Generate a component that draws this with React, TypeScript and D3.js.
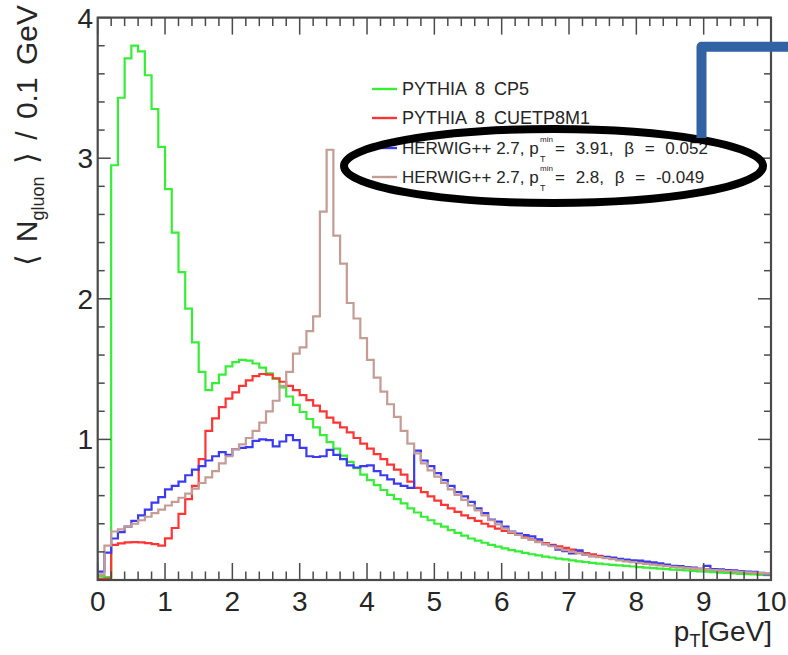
import React from "react";
import * as d3 from "d3";

// ---------- data (bin contents, 0.1 GeV bins from 0 to 10 GeV) ----------
const binWidth = 0.1;
const xTickLabels = [0, 1, 2, 3, 4, 5, 6, 7, 8, 9, 10];
const yTickLabels = [1, 2, 3, 4];

const pythiaCP5 = [
  0.03, 0.02, 2.95, 3.43, 3.71, 3.80, 3.76, 3.59, 3.35, 3.08,
  2.78, 2.47, 2.19, 1.93, 1.69, 1.48, 1.35, 1.40, 1.46, 1.52,
  1.55, 1.565, 1.56, 1.54, 1.51, 1.47, 1.43, 1.37, 1.305, 1.245,
  1.195, 1.145, 1.085, 1.03, 0.98, 0.935, 0.885, 0.84, 0.795, 0.75,
  0.71, 0.675, 0.64, 0.605, 0.575, 0.545, 0.51, 0.48, 0.45, 0.425,
  0.40, 0.38, 0.355, 0.335, 0.315, 0.295, 0.28, 0.265, 0.25, 0.237,
  0.225, 0.213, 0.203, 0.193, 0.183, 0.175, 0.166, 0.16, 0.152, 0.146,
  0.14, 0.133, 0.128, 0.122, 0.117, 0.112, 0.108, 0.104, 0.1, 0.096,
  0.092, 0.088, 0.085, 0.081, 0.078, 0.074, 0.071, 0.068, 0.065, 0.062,
  0.059, 0.056, 0.053, 0.05, 0.047, 0.044, 0.042, 0.039, 0.037, 0.034,
];

const pythiaCUETP8M1 = [
  0.01, 0.01, 0.25, 0.26, 0.268, 0.27, 0.268, 0.262, 0.255, 0.244,
  0.296, 0.37, 0.47, 0.575, 0.67, 0.86, 1.06, 1.15, 1.23, 1.29,
  1.335, 1.38, 1.42, 1.45, 1.465, 1.46, 1.435, 1.41, 1.38, 1.35,
  1.315, 1.28, 1.24, 1.2, 1.155, 1.12, 1.085, 1.05, 1.01, 0.97,
  0.935, 0.895, 0.86, 0.82, 0.785, 0.75, 0.70, 0.655, 0.625, 0.595,
  0.565, 0.535, 0.51, 0.485, 0.46, 0.44, 0.42, 0.40, 0.382, 0.365,
  0.35, 0.335, 0.32, 0.305, 0.29, 0.275, 0.262, 0.25, 0.24, 0.228,
  0.216, 0.205, 0.192, 0.182, 0.172, 0.163, 0.155, 0.147, 0.139, 0.133,
  0.126, 0.12, 0.114, 0.108, 0.102, 0.097, 0.092, 0.088, 0.083, 0.079,
  0.076, 0.072, 0.069, 0.066, 0.062, 0.059, 0.055, 0.052, 0.048, 0.045,
];

const herwig391 = [
  0.06, 0.195, 0.295, 0.34, 0.38, 0.42, 0.46, 0.50, 0.55, 0.59,
  0.645, 0.67, 0.70, 0.745, 0.785, 0.81, 0.85, 0.88, 0.91, 0.89,
  0.93, 0.94, 0.945, 0.99, 1.0, 0.995, 0.95, 0.985, 1.03, 0.995,
  0.94, 0.88, 0.875, 0.88, 0.925, 0.89, 0.86, 0.815, 0.80, 0.81,
  0.815, 0.775, 0.745, 0.715, 0.685, 0.67, 0.655, 0.92, 0.85, 0.81,
  0.76, 0.71, 0.67, 0.625, 0.595, 0.555, 0.51, 0.475, 0.43, 0.415,
  0.38, 0.345, 0.33, 0.32, 0.31, 0.29, 0.255, 0.245, 0.215, 0.205,
  0.19, 0.21, 0.18, 0.17, 0.165, 0.165, 0.16, 0.15, 0.145, 0.14,
  0.138, 0.13, 0.125, 0.118, 0.11, 0.1, 0.098, 0.092, 0.088, 0.08,
  0.1, 0.078, 0.075, 0.07, 0.068, 0.064, 0.06, 0.058, 0.05, 0.04,
];

const herwig28 = [
  0.04, 0.245, 0.345, 0.36, 0.38, 0.40, 0.425, 0.45, 0.475, 0.50,
  0.53, 0.555, 0.585, 0.615, 0.65, 0.69, 0.73, 0.775, 0.83, 0.88,
  0.93, 0.965, 1.01, 1.06, 1.12, 1.20, 1.275, 1.38, 1.48, 1.61,
  1.655, 1.77, 1.875, 2.62, 3.06, 2.45, 2.25, 1.97, 1.86, 1.72,
  1.565, 1.44, 1.34, 1.25, 1.16, 1.06, 0.97, 0.90, 0.83, 0.78,
  0.735, 0.69, 0.645, 0.605, 0.57, 0.53, 0.495, 0.46, 0.425, 0.395,
  0.365, 0.34, 0.32, 0.30, 0.285, 0.27, 0.255, 0.24, 0.225, 0.212,
  0.20, 0.19, 0.18, 0.17, 0.162, 0.155, 0.148, 0.14, 0.133, 0.127,
  0.12, 0.115, 0.11, 0.104, 0.099, 0.094, 0.09, 0.086, 0.082, 0.078,
  0.074, 0.071, 0.068, 0.064, 0.061, 0.058, 0.055, 0.052, 0.049, 0.046,
];

const legendLabels = [
  "PYTHIA 8 CP5",
  "PYTHIA 8 CUETP8M1",
  "HERWIG++ 2.7, p",
  "HERWIG++ 2.7, p",
];
const legendTails = ["", "", "= 3.91, \u03B2 = 0.052", "= 2.8, \u03B2 = -0.049"];

const seriesColors = ["#35ee35", "#ff3535", "#3a3af5", "#c49c94"];

// ---------- layout ----------
const W = 788;
const H = 655;
const FONT = "'Liberation Sans', Arial, Helvetica, sans-serif";

const x = d3.scaleLinear().domain([0, 10]).range([97.7, 771]);
const y = d3.scaleLinear().domain([0, 4]).range([580, 17.6]);

function stepPath(vals: number[]): string {
  const pts: [number, number][] = vals.map((v, i) => [i * binWidth, v]);
  pts.push([vals.length * binWidth, vals[vals.length - 1]]);
  return (
    d3
      .line<[number, number]>()
      .x((d) => x(d[0]))
      .y((d) => y(d[1]))
      .curve(d3.curveStepAfter)(pts) || ""
  );
}

const series = [pythiaCP5, pythiaCUETP8M1, herwig391, herwig28];

export default function App() {
  const [x0, x1] = x.range();
  const [yb, yt] = y.range();
  const xMinor = d3.range(0, 10.0001, 0.2);
  const yMinor = d3.range(0, 4.0001, 0.2);
  const frameColor = "#4a4a4a";

  const legendY = [89, 118, 148, 177];
  const textColor = "#262626";

  return (
    <svg
      width={W}
      height={H}
      viewBox={`0 0 ${W} ${H}`}
      style={{ position: "absolute", left: 0, top: 0, background: "#fff" }}
      fontFamily={FONT}
    >
      <rect x={0} y={0} width={W} height={H} fill="#fff" />

      {/* histograms */}
      {series.map((s, i) => (
        <path
          key={i}
          d={stepPath(s)}
          fill="none"
          stroke={seriesColors[i]}
          strokeWidth={2.2}
        />
      ))}

      {/* frame */}
      <rect
        x={x0}
        y={yt}
        width={x1 - x0}
        height={yb - yt}
        fill="none"
        stroke={frameColor}
        strokeWidth={2.2}
      />

      {/* x ticks (bottom and top) */}
      {xMinor.map((v, i) => {
        const major = Math.abs(v - Math.round(v)) < 1e-6;
        const len = major ? 17 : 8.5;
        return (
          <g key={"xt" + i} stroke={frameColor} strokeWidth={1.5}>
            <line x1={x(v)} x2={x(v)} y1={yb} y2={yb - len} />
            <line x1={x(v)} x2={x(v)} y1={yt} y2={yt + len} />
          </g>
        );
      })}
      {/* y ticks (left and right) */}
      {yMinor.map((v, i) => {
        const major = Math.abs(v - Math.round(v)) < 1e-6;
        const len = major ? 13 : 7;
        return (
          <g key={"yt" + i} stroke={frameColor} strokeWidth={1.5}>
            <line x1={x0} x2={x0 + len} y1={y(v)} y2={y(v)} />
            <line x1={x1} x2={x1 - len} y1={y(v)} y2={y(v)} />
          </g>
        );
      })}

      {/* tick labels */}
      {xTickLabels.map((v) => (
        <text
          key={"xl" + v}
          x={x(v)}
          y={611}
          textAnchor="middle"
          fontSize={28}
          fill={textColor}
        >
          {v}
        </text>
      ))}
      {yTickLabels.map((v) => (
        <text
          key={"yl" + v}
          x={93}
          y={y(v) + 10}
          textAnchor="end"
          fontSize={28}
          fill={textColor}
        >
          {v}
        </text>
      ))}

      {/* axis titles */}
      <text
        transform="translate(37,5) rotate(-90)"
        textAnchor="end"
        fontSize={30}
        fill={textColor}
        style={{ whiteSpace: "pre", wordSpacing: "4px" }}
      >
        <tspan>{"\u27E8 N"}</tspan>
        <tspan fontSize={18} dy={7}>
          gluon
        </tspan>
        <tspan dy={-7}>{" \u27E9 / 0.1 GeV"}</tspan>
      </text>
      <text x={772} y={641} textAnchor="end" fontSize={28} fill={textColor}>
        <tspan>p</tspan>
        <tspan fontSize={18} dy={6}>
          T
        </tspan>
        <tspan dy={-6}>[GeV]</tspan>
      </text>

      {/* legend */}
      {legendLabels.map((label, i) => (
        <g key={"lg" + i} fill={textColor}>
          <line
            x1={372}
            x2={397}
            y1={legendY[i]}
            y2={legendY[i]}
            stroke={seriesColors[i]}
            strokeWidth={2.4}
          />
          <text
            x={402}
            y={legendY[i] + 6}
            fontSize={i < 2 ? 18 : 17}
            style={{ wordSpacing: i < 2 ? "4px" : "0px" }}
          >
            {label}
          </text>
          {legendTails[i] && (
            <>
              <text x={540} y={legendY[i] - 6} fontSize={8}>
                min
              </text>
              <text x={540} y={legendY[i] + 14} fontSize={9}>
                T
              </text>
              <text
                x={555}
                y={legendY[i] + 6}
                fontSize={17}
                style={{ wordSpacing: "6px" }}
              >
                {legendTails[i]}
              </text>
            </>
          )}
        </g>
      ))}

      {/* annotations */}
      <ellipse
        cx={553.5}
        cy={166}
        rx={209.5}
        ry={37}
        fill="none"
        stroke="#000"
        strokeWidth={8}
      />
      <path
        d="M 701.5 138 V 46.7 H 795"
        fill="none"
        stroke="#3162a3"
        strokeWidth={10}
        strokeLinejoin="round"
      />
    </svg>
  );
}
